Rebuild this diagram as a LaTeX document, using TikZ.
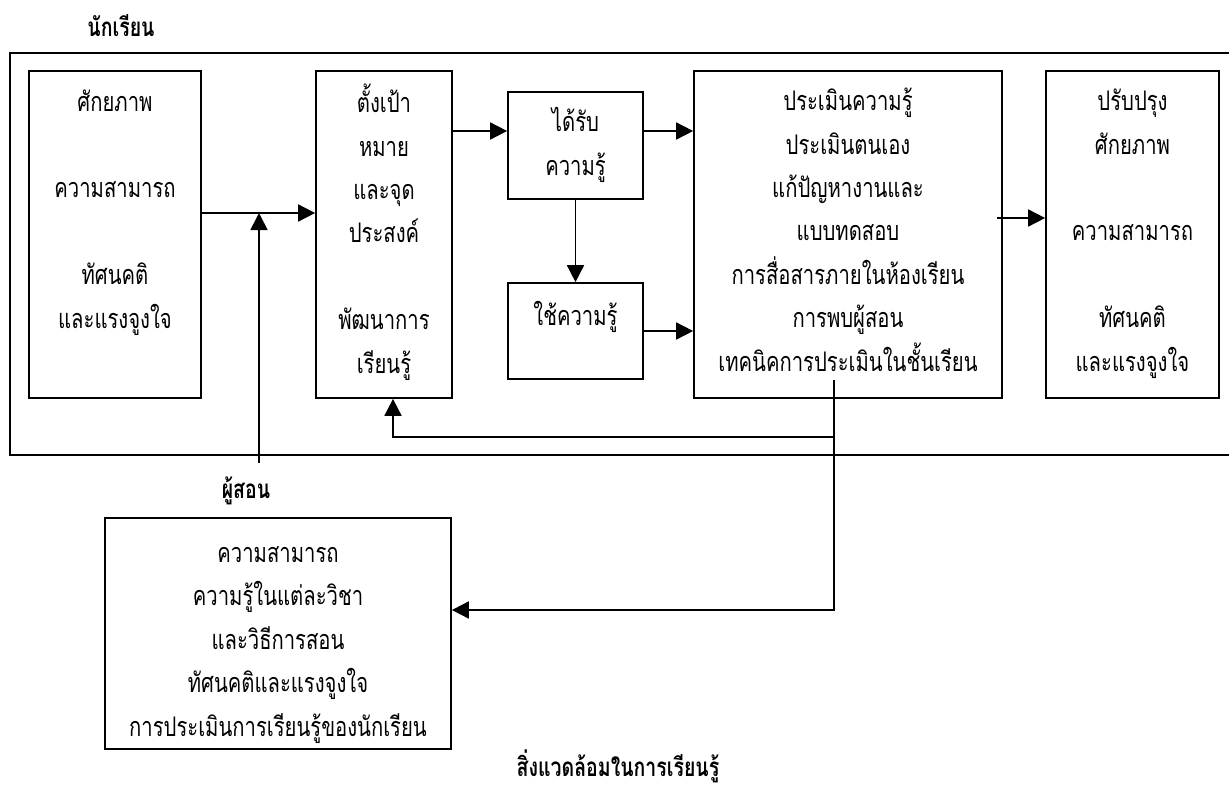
\documentclass[tikz,border=0pt]{standalone}
\usepackage{fontspec}
\newfontfamily\thai[Script=Thai,FakeStretch=0.75]{Loma}
\usetikzlibrary{arrows.meta}
\begin{document}
\begin{tikzpicture}[x=1pt,y=-1pt,line width=1.7pt,
  box/.style={draw,line width=1.7pt,inner sep=0pt},
  txt/.style={font=\thai\fontsize{27}{43.4}\selectfont,align=center,inner sep=0pt,anchor=base},
  lbl/.style={font=\thai\bfseries\fontsize{26}{30}\selectfont,inner sep=0pt,anchor=base},
  arr/.style={-{Triangle[length=17pt,width=17pt]},line width=1.7pt}]
\useasboundingbox (0,0) rectangle (1229,785);
% outer frame (open on the right)
\draw (1229,53) -- (10,53) -- (10,455) -- (1229,455);
% boxes
\node[box,minimum width=172pt,minimum height=327pt] (b1) at (115,234.5) {};
\node[box,minimum width=136pt,minimum height=327pt] (b2) at (384,234.5) {};
\node[box,minimum width=135pt,minimum height=107pt] (b3) at (575.5,145.5) {};
\node[box,minimum width=135pt,minimum height=96pt] (b4) at (575.5,331) {};
\node[box,minimum width=308pt,minimum height=327pt] (b5) at (848,234.5) {};
\node[box,minimum width=173pt,minimum height=327pt] (b6) at (1132.5,234.5) {};
\node[box,minimum width=346pt,minimum height=231pt] (b7) at (278,633.5) {};
% texts (anchored at the baseline of the last line)
\node[txt] (t1) at (115,328) {ศักยภาพ\\[43.4pt]ความสามารถ\\[43.4pt]ทัศนคติ\\และแรงจูงใจ};
\node[txt] (t2) at (384,373) {ตั้งเป้า\\หมาย\\และจุด\\ประสงค์\\[43.4pt]พัฒนาการ\\เรียนรู้};
\node[txt] (t3) at (575.5,175) {ได้รับ\\ความรู้};
\node[txt] (t4) at (575.5,325) {ใช้ความรู้};
\node[txt] (t5) at (848,371) {ประเมินความรู้\\ประเมินตนเอง\\แก้ปัญหางานและ\\แบบทดสอบ\\การสื่อสารภายในห้องเรียน\\การพบผู้สอน\\เทคนิคการประเมินในชั้นเรียน};
\node[txt] (t6) at (1132.5,371) {ปรับปรุง\\ศักยภาพ\\[43.4pt]ความสามารถ\\[43.4pt]ทัศนคติ\\และแรงจูงใจ};
\node[txt] (t7) at (278,736) {ความสามารถ\\ความรู้ในแต่ละวิชา\\และวิธีการสอน\\ทัศนคติและแรงจูงใจ\\การประเมินการเรียนรู้ของนักเรียน};
\node[lbl] (l1) at (121,36) {นักเรียน};
\node[lbl] (l2) at (246,498) {ผู้สอน};
\node[lbl] (l3) at (618,776) {สิ่งแวดล้อมในการเรียนรู้};
% helper coordinates
\coordinate (j1) at (259,213);
\coordinate (s1) at (259,463);
\coordinate (y131) at (0,131);
\coordinate (c55) at (997,218);
\coordinate (f0) at (834,380);
\coordinate (f1) at (834,437);
\coordinate (fb) at (393,437);
\coordinate (y610) at (0,610);
% connectors
\draw[arr] (b1.east |- j1) -- (b2.west |- j1);
\draw[arr] (s1) -- (j1);
\draw[arr] (b2.east |- y131) -- (b3.west |- y131);
\draw[arr] (b3.east |- y131) -- (b5.west |- y131);
\draw[arr] (b3.south) -- (b4.north);
\draw[arr] (b4.east) -- (b4.east -| b5.west);
\draw[arr] (c55) -- (c55 -| b6.west);
\draw[arr] (f0) |- (fb) -- (fb |- b2.south);
\draw[arr] (f1) |- (b7.east |- y610);
\end{tikzpicture}
\end{document}
